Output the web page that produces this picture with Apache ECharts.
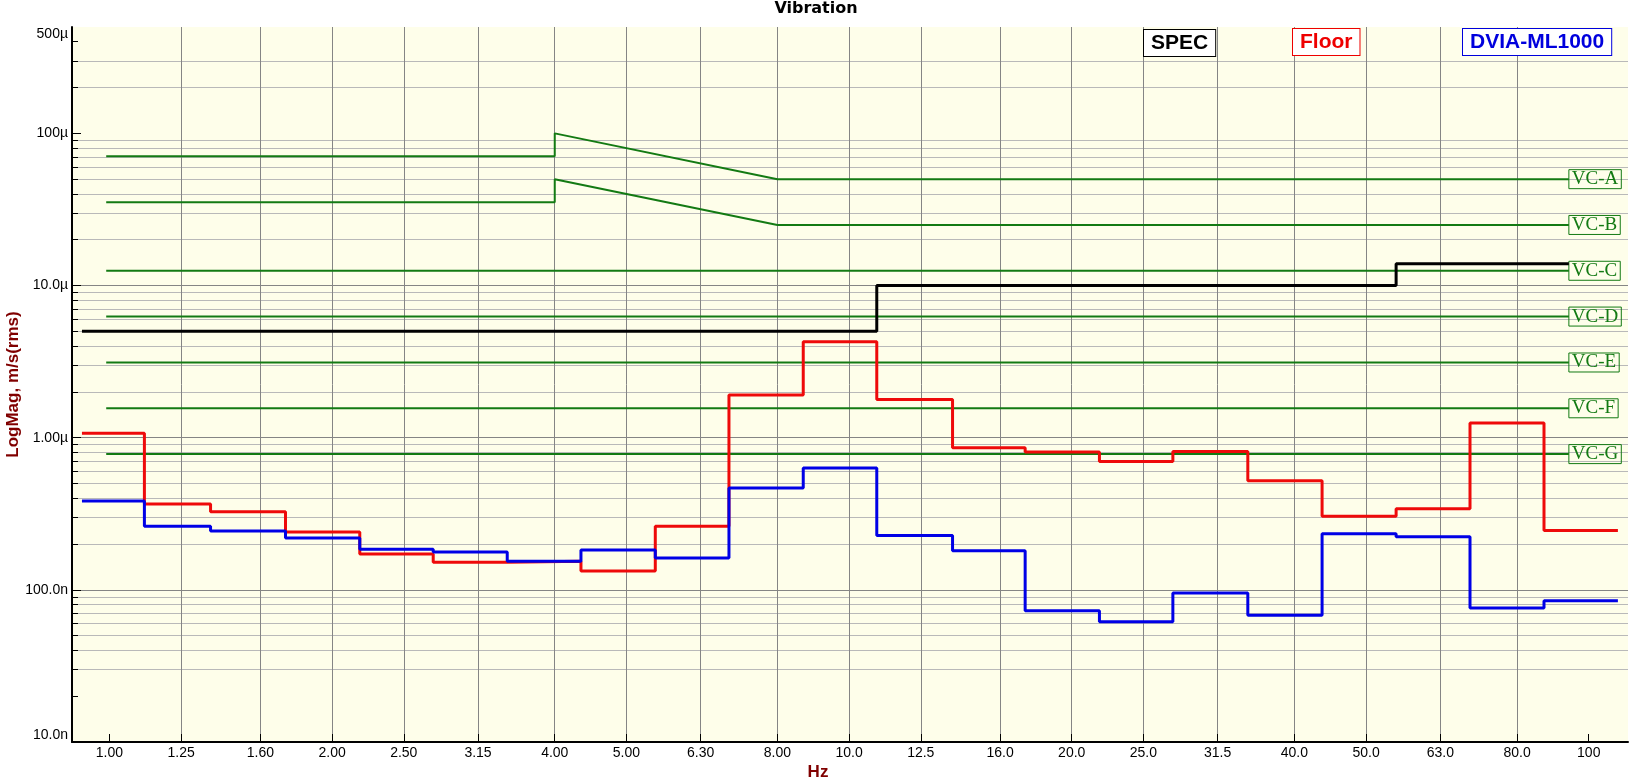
<!DOCTYPE html>
<html lang="en">
	<head>
		<meta charset="UTF-8">
		<title>Vibration</title>
		<script src="https://cdn.jsdelivr.net/npm/echarts@6/dist/echarts.min.js" type="text/javascript" charset="utf-8"></script>
		<style>
			html, body { margin: 0; padding: 0; background: #fff; }
			#main { width: 1632px; height: 780px; }
		</style>
	</head>
	<body>
		<div id="main"></div>
		<script>
			// 1/3 octave band centres (also the x tick positions) and their labels
			var bandFreq = [1, 1.25, 1.6, 2, 2.5, 3.15, 4, 5, 6.3, 8, 10, 12.5, 16, 20, 25, 31.5, 40, 50, 63, 80, 100];
			var bandLabels = ['1.00', '1.25', '1.60', '2.00', '2.50', '3.15', '4.00', '5.00', '6.30', '8.00', '10.0',
				'12.5', '16.0', '20.0', '25.0', '31.5', '40.0', '50.0', '63.0', '80.0', '100'];
			// where each band step starts/stops (Hz)
			var bandEdges = [0.918, 1.115, 1.37, 1.73, 2.18, 2.74, 3.45, 4.34, 5.47, 6.88, 8.67, 10.9,
				13.8, 17.3, 21.8, 27.4, 34.6, 43.6, 54.9, 69.1, 87.0, 109.5];

			// measured levels, m/s rms
			var floorLevel = [1.07e-6, 366e-9, 326e-9, 240e-9, 172e-9, 152e-9, 154e-9, 133e-9, 262e-9, 1.91e-6, 4.27e-6,
				1.78e-6, 859e-9, 805e-9, 698e-9, 810e-9, 521e-9, 305e-9, 341e-9, 1.25e-6, 245e-9];
			var dviaLevel = [383e-9, 262e-9, 244e-9, 219e-9, 185e-9, 177e-9, 154e-9, 183e-9, 162e-9, 467e-9, 632e-9,
				228e-9, 181e-9, 72.8e-9, 61.8e-9, 95.5e-9, 68.1e-9, 234e-9, 223e-9, 75.9e-9, 84.7e-9];

			// tool spec: breakpoints (Hz) and levels between them
			var specFreq = [0.918, 10.9, 54.9, 94];
			var specLevel = [5e-6, 10e-6, 13.9e-6];

			// VC criteria curves
			var vcNames = ['VC-A', 'VC-B', 'VC-C', 'VC-D', 'VC-E', 'VC-F', 'VC-G'];
			var vcFreqAB = [0.99, 4, 4, 8, 94];
			var vcA = [70.6e-6, 70.6e-6, 100e-6, 50e-6, 50e-6];
			var vcB = [35.3e-6, 35.3e-6, 50e-6, 25e-6, 25e-6];
			var vcFreqFlat = [0.99, 94];
			var vcFlat = [12.5e-6, 6.25e-6, 3.12e-6, 1.56e-6, 0.78e-6];

			// y axis ticks
			var magTicks = [1e-8, 1e-7, 1e-6, 1e-5, 1e-4];
			var magLabelVals = [1e-8, 1e-7, 1e-6, 1e-5, 1e-4, 5e-4];
			var magLabels = ['10.0n', '100.0n', '1.00µ', '10.0µ', '100µ', '500µ'];
			var minorMult = [2, 3, 4, 5, 6, 7, 8, 9];

			var minorTicks = [];
			magTicks.forEach(function (d) {
				minorMult.forEach(function (m) {
					if (d * m < 5e-4 * 0.999) minorTicks.push(d * m);
				});
			});

			function nearest(list, v) {
				var best = 0, bd = Infinity;
				for (var i = 0; i < list.length; i++) {
					var d = Math.abs(Math.log(list[i]) - Math.log(v));
					if (d < bd) { bd = d; best = i; }
				}
				return best;
			}

			// bands -> step line points
			function bandSteps(edges, levels) {
				var pts = [];
				for (var i = 0; i < levels.length; i++) {
					pts.push([edges[i], levels[i]]);
					pts.push([edges[i + 1], levels[i]]);
				}
				return pts;
			}
			function zip(xs, ys) {
				return xs.map(function (x, i) { return [x, ys[i]]; });
			}

			var green = '#137a13';
			var vcSeries = [];
			var vcData = [zip(vcFreqAB, vcA), zip(vcFreqAB, vcB)];
			vcFlat.forEach(function (v) { vcData.push(zip(vcFreqFlat, [v, v])); });
			vcData.forEach(function (d, i) {
				vcSeries.push({
					name: vcNames[i],
					type: 'line',
					data: d,
					showSymbol: false,
					symbol: 'none',
					lineStyle: { color: green, width: 2 },
					z: 2,
					endLabel: {
						show: true,
						formatter: '{a}',
						distance: 0,
						color: green,
						fontFamily: 'Liberation Serif',
						fontSize: 19,
						lineHeight: 18,
						padding: [1, 3, 0, 3],
						borderColor: green,
						borderWidth: 1
					}
				});
			});

			var chartDom = document.getElementById('main');
			var myChart = echarts.init(chartDom);

			var option = {
				animation: false,
				backgroundColor: '#fff',
				title: {
					text: 'Vibration',
					left: 'center',
					top: 1,
					padding: 0,
					textStyle: { fontFamily: 'DejaVu Sans', fontWeight: 'bold', fontSize: 16, color: '#000' }
				},
				grid: {
					left: 72,
					right: 4,
					top: 27,
					bottom: 38,
					outerBoundsMode: 'none',
					containLabel: false,
					show: true,
					backgroundColor: '#fefeea',
					borderWidth: 0
				},
				xAxis: {
					type: 'log',
					min: 0.89,
					max: 113,
					name: 'Hz',
					nameLocation: 'middle',
					nameGap: 22,
					nameMoveOverlap: false,
					nameTextStyle: { fontFamily: 'Liberation Sans', fontWeight: 'bold', fontSize: 17, color: '#800000', padding: [0, 64, 0, 0] },
					axisLine: { show: true, onZero: false, lineStyle: { color: '#000', width: 2 } },
					axisTick: { show: true, inside: true, length: 8, customValues: bandFreq, lineStyle: { color: '#000' } },
					axisLabel: {
						customValues: bandFreq,
						margin: 4,
						fontFamily: 'Liberation Sans',
						fontSize: 14,
						color: '#000',
						formatter: function (v) { return bandLabels[nearest(bandFreq, v)]; }
					},
					splitLine: { show: true, showMinLine: false, showMaxLine: false, lineStyle: { color: '#858585', width: 1 } }
				},
				yAxis: [{
					type: 'log',
					min: 1e-8,
					max: 5e-4,
					name: 'LogMag, m/s(rms)',
					nameLocation: 'middle',
					nameRotate: 90,
					nameGap: 50,
					nameMoveOverlap: false,
					nameTextStyle: { fontFamily: 'Liberation Sans', fontWeight: 'bold', fontSize: 17, color: '#800000' },
					axisLine: { show: true, lineStyle: { color: '#000', width: 2 } },
					axisTick: { show: true, inside: true, length: 9, customValues: magTicks, lineStyle: { color: '#000' } },
					axisLabel: {
						customValues: magLabelVals,
						margin: 4,
						fontFamily: 'Liberation Sans',
						fontSize: 14,
						color: '#000',
						verticalAlignMaxLabel: 'top',
						verticalAlignMinLabel: 'bottom',
						formatter: function (v) { return magLabels[nearest(magLabelVals, v)]; }
					},
					splitLine: { show: true, showMinLine: false, showMaxLine: false, lineStyle: { color: '#858585', width: 1 } }
				}, {
					// minor decade lines 2..9
					type: 'log',
					min: 1e-8,
					max: 5e-4,
					position: 'left',
					axisLine: { show: false },
					axisTick: { show: true, inside: true, length: 6, customValues: minorTicks, lineStyle: { color: '#000' } },
					axisLabel: { show: false, customValues: minorTicks },
					splitLine: { show: true, showMinLine: false, showMaxLine: false, lineStyle: { color: '#b9b9b9', width: 1 } }
				}],
				graphic: [
					{ type: 'text', left: 1143, top: 29, z: 100, style: { text: 'SPEC', font: 'bold 21px "Liberation Sans"', fill: '#000', backgroundColor: '#fff', borderColor: '#000', borderWidth: 1, padding: [3, 7, 2, 7] } },
					{ type: 'text', left: 1292, top: 28, z: 100, style: { text: 'Floor', font: 'bold 21px "Liberation Sans"', fill: '#ee0000', backgroundColor: '#fff', borderColor: '#ee0000', borderWidth: 1, padding: [3, 7, 2, 7] } },
					{ type: 'text', left: 1462, top: 28, z: 100, style: { text: 'DVIA-ML1000', font: 'bold 21px "Liberation Sans"', fill: '#0000dd', backgroundColor: '#fff', borderColor: '#0000dd', borderWidth: 1, padding: [3, 7, 2, 7] } }
				],
				series: vcSeries.concat([
					{
						name: 'SPEC',
						type: 'line',
						data: bandSteps(specFreq, specLevel),
						showSymbol: false,
						symbol: 'none',
						z: 3,
						lineStyle: { color: '#000', width: 3 }
					},
					{
						name: 'Floor',
						type: 'line',
						data: bandSteps(bandEdges, floorLevel),
						showSymbol: false,
						symbol: 'none',
						z: 4,
						lineStyle: { color: '#ee0a0a', width: 3 }
					},
					{
						name: 'DVIA-ML1000',
						type: 'line',
						data: bandSteps(bandEdges, dviaLevel),
						showSymbol: false,
						symbol: 'none',
						z: 5,
						lineStyle: { color: '#0000e6', width: 3 }
					}
				])
			};
			option && myChart.setOption(option);
		</script>
	</body>
</html>
